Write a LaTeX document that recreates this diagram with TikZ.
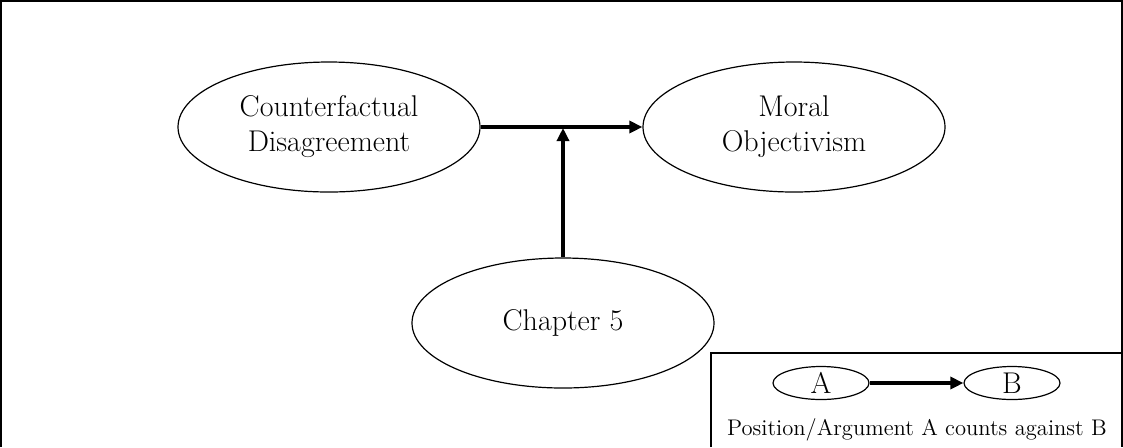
\documentclass[tikz,border=0pt]{standalone}
\usepackage{tikz}
\usetikzlibrary{shapes.geometric,arrows.meta}

\begin{document}
\begin{tikzpicture}[x=0.5pt,y=-0.5pt,
		claim/.style={draw,ellipse,line width=0.6pt,minimum width=151pt,minimum height=65pt,inner sep=0pt,align=center,font=\fontsize{15}{17.5}\selectfont},
		tiny claim/.style={draw,ellipse,line width=0.6pt,minimum width=48pt,minimum height=16.5pt,inner sep=0pt,font=\fontsize{15}{17.5}\selectfont},
		counts/.style={line width=2pt,-{Triangle[length=6.5pt,width=6pt]}}]
			\useasboundingbox (0,0) rectangle (1123,447);
			\draw[line width=1pt] (1,447) -- (1,1) -- (1122,1) -- (1122,447);

			\node[claim] (cd) at (329,127) {Counterfactual\\Disagreement};
			\node[claim] (mo) at (794,127) {Moral\\Objectivism};
			\node[claim] (ch5) at (563,323) {Chapter 5};

			\draw[counts] (cd) -- (mo);
			\coordinate (hit) at (563,128);
			\draw[counts] (ch5) -- (hit);

			% legend
			\draw[line width=0.8pt] (711,447) -- (711,353) -- (1122,353);
			\node[tiny claim] (a) at (821,383) {A};
			\node[tiny claim] (b) at (1012,383) {B};
			\draw[counts] (a) -- (b);
			\node[font=\fontsize{11.3}{13}\selectfont] (key) at (917,430) {Position/Argument A counts against B};
		\end{tikzpicture}
\end{document}
